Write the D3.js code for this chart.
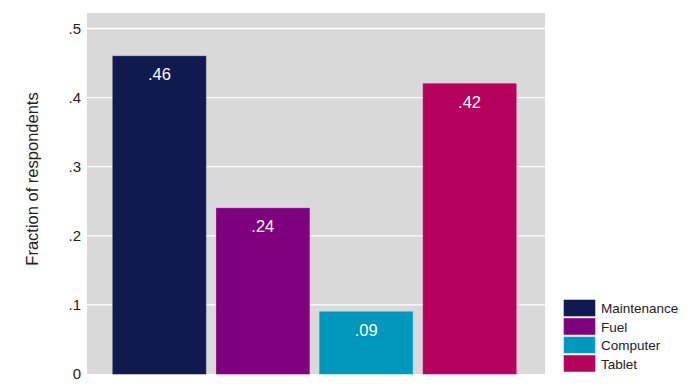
<!DOCTYPE html>
<html>
<head>
<meta charset="utf-8">
<script src="https://cdn.jsdelivr.net/npm/d3@7"></script>
<style>
  body { margin: 0; background: #fff; }
  text { font-family: "Liberation Sans", Arial, sans-serif; }
</style>
</head>
<body>
<svg id="chart" width="700" height="389"></svg>
<script>
var categories = ['Maintenance', 'Fuel', 'Computer', 'Tablet'];
var values = [0.46, 0.24, 0.09, 0.42];
var colors = ['#101a4f', '#7f007f', '#0097bd', '#b5005d'];
var yTicks = [0, 0.1, 0.2, 0.3, 0.4, 0.5];

var svg = d3.select('#chart');
// note: "top" is taken by window.top, so use plot* names
var plotL = 87, plotR = 545, plotT = 13, plotB = 374;

// bars sit a touch left of centre in the original
var x = d3.scaleBand().domain(categories).range([plotL - 1, plotR - 2])
    .paddingInner(0.1).paddingOuter(0.26);
var y = d3.scaleLinear().domain([0, 0.5]).range([plotB, 28.5]);

function fmt(d) {
    return d === 0 ? '0' : d3.format('.2f')(d).replace(/^0/, '').replace(/0$/, '');
}

svg.append('rect')
    .attr('x', plotL).attr('y', plotT)
    .attr('width', plotR - plotL).attr('height', plotB - plotT)
    .attr('fill', '#d9d9d9');

// gridlines
svg.selectAll('line.grid').data(yTicks.slice(1)).enter().append('line')
    .attr('class', 'grid')
    .attr('x1', plotL).attr('x2', plotR)
    .attr('y1', function (d) { return y(d); })
    .attr('y2', function (d) { return y(d); })
    .attr('stroke', '#fff').attr('stroke-width', 1.3);

// y axis labels
var yAxis = d3.axisLeft(y).tickValues(yTicks).tickSize(0).tickPadding(6)
    .tickFormat(fmt);
var ag = svg.append('g').attr('transform', 'translate(' + plotL + ',0)').call(yAxis);
ag.select('.domain').remove();
ag.selectAll('text').attr('font-size', 15).attr('fill', '#222')
    .style('font-family', '"Liberation Sans", Arial, sans-serif');

svg.append('text')
    .attr('transform', 'translate(38,179) rotate(-90)')
    .attr('text-anchor', 'middle')
    .attr('font-size', 16.5).attr('fill', '#222')
    .text('Fraction of respondents');

// bars
var data = categories.map(function (c, i) { return { cat: c, v: values[i], color: colors[i] }; });

svg.selectAll('rect.bar').data(data).enter().append('rect')
    .attr('class', 'bar')
    .attr('x', function (d) { return x(d.cat); })
    .attr('y', function (d) { return y(d.v); })
    .attr('width', x.bandwidth())
    .attr('height', function (d) { return plotB - y(d.v); })
    .attr('fill', function (d) { return d.color; })
    .attr('stroke', function (d) { return d3.color(d.color).brighter(0.4); })
    .attr('stroke-width', 0.6);

svg.selectAll('text.val').data(data).enter().append('text')
    .attr('class', 'val')
    .attr('x', function (d) { return x(d.cat) + x.bandwidth() / 2; })
    .attr('y', function (d) { return y(d.v) + 24; })
    .attr('text-anchor', 'middle')
    .attr('font-size', 16.5).attr('fill', '#fff')
    .text(function (d) { return fmt(d.v); });

// legend
var lg = svg.append('g').attr('transform', 'translate(564,300)');
var row = lg.selectAll('g').data(data).enter().append('g')
    .attr('transform', function (d, i) { return 'translate(0,' + (i * 18.5) + ')'; });
row.append('rect')
    .attr('width', 31).attr('height', 16)
    .attr('fill', function (d) { return d.color; })
    .attr('stroke', function (d) { return d3.color(d.color).brighter(0.5); })
    .attr('stroke-width', 0.6);
row.append('text')
    .attr('x', 37).attr('y', 13)
    .attr('font-size', 13.5).attr('fill', '#222')
    .text(function (d) { return d.cat; });
</script>
</body>
</html>
